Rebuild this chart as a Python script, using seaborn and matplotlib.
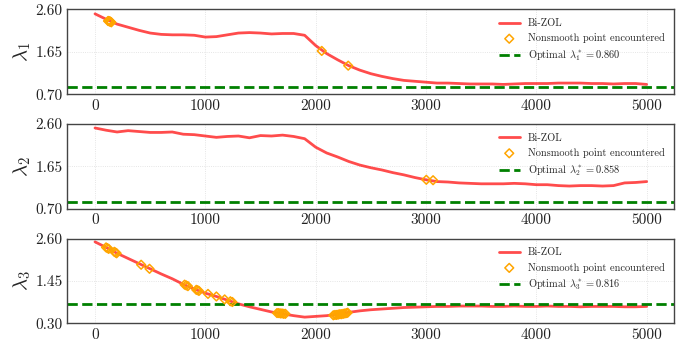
import numpy as np
import matplotlib
matplotlib.use('Agg')
import matplotlib.pyplot as plt
from matplotlib.ticker import FormatStrFormatter
import seaborn as sns

# iterations (every 100 steps)
iters = list(range(0, 5001, 100))

lam1 = [2.50, 2.38, 2.27, 2.20, 2.13, 2.07, 2.04, 2.03, 2.03, 2.02,
        1.98, 1.99, 2.03, 2.07, 2.08, 2.07, 2.05, 2.06, 2.06, 2.02,
        1.79, 1.61, 1.47, 1.34, 1.24, 1.16, 1.10, 1.05, 1.01, 0.99,
        0.97, 0.95, 0.95, 0.94, 0.93, 0.93, 0.93, 0.92, 0.93, 0.94,
        0.94, 0.94, 0.95, 0.95, 0.95, 0.94, 0.94, 0.93, 0.94, 0.94,
        0.92]
lam2 = [2.51, 2.46, 2.42, 2.45, 2.43, 2.41, 2.41, 2.42, 2.37, 2.36,
        2.33, 2.30, 2.32, 2.33, 2.29, 2.34, 2.33, 2.35, 2.32, 2.27,
        2.08, 1.95, 1.86, 1.76, 1.68, 1.62, 1.57, 1.51, 1.46, 1.40,
        1.35, 1.31, 1.30, 1.28, 1.27, 1.26, 1.26, 1.26, 1.27, 1.26,
        1.24, 1.24, 1.22, 1.21, 1.22, 1.22, 1.21, 1.22, 1.28, 1.29,
        1.31]
lam3 = [2.51, 2.36, 2.20, 2.06, 1.92, 1.78, 1.64, 1.51, 1.36, 1.23,
        1.12, 1.03, 0.93, 0.83, 0.75, 0.68, 0.61, 0.56, 0.51, 0.47,
        0.49, 0.51, 0.55, 0.60, 0.64, 0.67, 0.69, 0.71, 0.73, 0.74,
        0.75, 0.76, 0.76, 0.77, 0.77, 0.77, 0.76, 0.76, 0.77, 0.76,
        0.76, 0.77, 0.76, 0.76, 0.75, 0.76, 0.76, 0.76, 0.75, 0.75,
        0.76]

# nonsmooth points encountered
ns1_x = [118, 124, 130, 136, 142, 148, 2055, 2295]
ns1_y = [2.34, 2.34, 2.33, 2.33, 2.32, 2.31, 1.67, 1.34]
ns2_x = [3003, 3064]
ns2_y = [1.35, 1.34]
ns3_x = [100, 112, 124, 175, 186, 196, 418, 494, 812, 827, 842, 918, 930, 942,
         1024, 1100, 1175, 1227, 1245,
         1650, 1665, 1680, 1695, 1710, 1725,
         2160, 2175, 2190, 2205, 2220, 2235, 2250, 2265, 2280, 2290]
ns3_y = [2.36, 2.34, 2.32, 2.24, 2.22, 2.20, 1.89, 1.78, 1.35, 1.33, 1.31, 1.21, 1.20, 1.18,
         1.10, 1.03, 0.95, 0.90, 0.88,
         0.58, 0.58, 0.57, 0.57, 0.56, 0.56,
         0.52, 0.53, 0.53, 0.54, 0.55, 0.55, 0.56, 0.57, 0.58, 0.59]

optimal = [0.860, 0.858, 0.816]
opt_labels = [r'Optimal $\lambda_1^* = 0.860$',
              r'Optimal $\lambda_2^* = 0.858$',
              r'Optimal $\lambda_3^* = 0.816$']
ylabels = [r'$\lambda_1$', r'$\lambda_2$', r'$\lambda_3$']
yticks = [[0.70, 1.65, 2.60], [0.70, 1.65, 2.60], [0.30, 1.45, 2.60]]
xticks = [0, 1000, 2000, 3000, 4000, 5000]

sns.set_style('white')
plt.rcParams['font.family'] = 'serif'
plt.rcParams['font.serif'] = ['cmr10', 'DejaVu Serif']
plt.rcParams['mathtext.fontset'] = 'cm'
plt.rcParams['axes.unicode_minus'] = False

fig, axes = plt.subplots(3, 1, figsize=(6.88, 3.47), dpi=100)
fig.subplots_adjust(left=0.098, right=0.980, top=0.973, bottom=0.068, hspace=0.35)

series = [lam1, lam2, lam3]
ns_x = [ns1_x, ns2_x, ns3_x]
ns_y = [ns1_y, ns2_y, ns3_y]

for i, ax in enumerate(axes):
    sns.lineplot(x=iters, y=series[i], ax=ax, color='red', alpha=0.7, lw=2,
                 estimator=None, label='Bi-ZOL')
    sns.scatterplot(x=ns_x[i], y=ns_y[i], ax=ax, marker='D', s=20,
                    facecolors='none', edgecolors='orange', linewidth=1.1,
                    label='Nonsmooth point encountered', zorder=3)
    ax.axhline(optimal[i], color='green', ls='--', lw=2, label=opt_labels[i])

    ax.set_ylim(yticks[i][0], yticks[i][-1])
    ax.set_yticks(yticks[i])
    ax.yaxis.set_major_formatter(FormatStrFormatter('%.2f'))
    ax.set_xticks(xticks)
    ax.set_ylabel(ylabels[i], fontsize=15, labelpad=2)
    ax.tick_params(direction='in', length=3, labelsize=11, colors='#222222')
    ax.grid(True, ls=':', lw=0.6, color='#dddddd')
    for sp in ax.spines.values():
        sp.set_color('#444444')
        sp.set_linewidth(1.0)
    ax.legend(loc='upper right', frameon=False, fontsize=7.5)

plt.savefig('out.png', dpi=100)
